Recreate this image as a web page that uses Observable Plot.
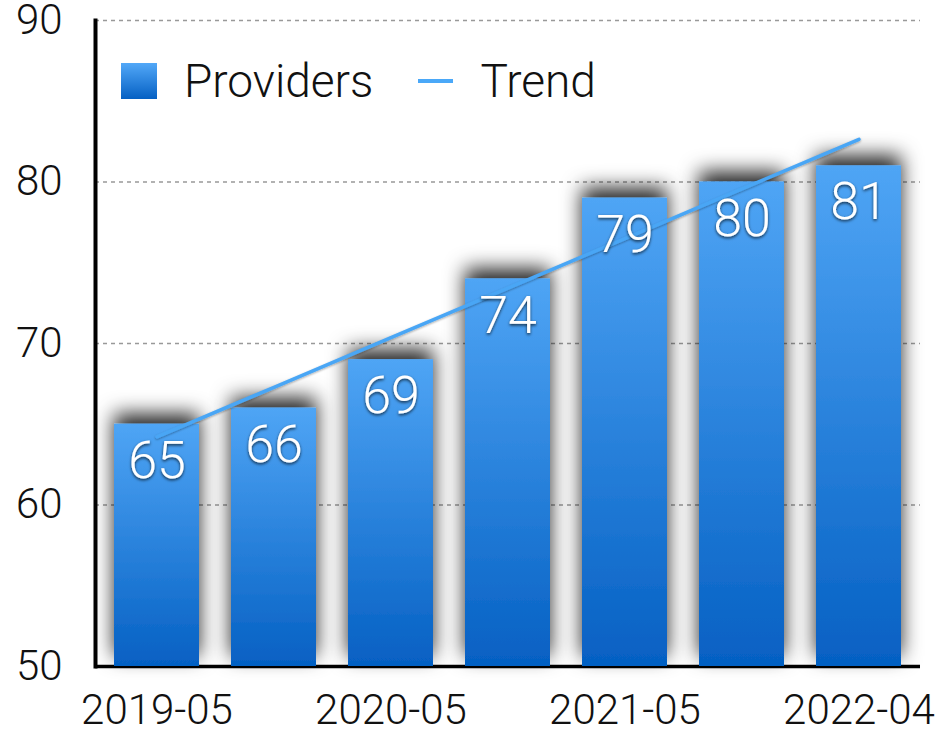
<!DOCTYPE html>
<html><head><meta charset="utf-8">
<script src="https://cdn.jsdelivr.net/npm/d3@7"></script>
<script src="https://cdn.jsdelivr.net/npm/@observablehq/plot@0.6"></script>
<style>
body{margin:0;background:#fff;}
#wrap{position:relative;width:939px;height:730px;font-family:"Helvetica Neue",Roboto,"Liberation Sans",sans-serif;}
.legend{position:absolute;left:121px;top:58px;height:46px;display:flex;align-items:center;font-size:46px;font-weight:300;color:#111;line-height:1;}
.sw-bar{width:36px;height:36px;background:linear-gradient(#52a8f8,#0560c3);margin-right:27px;}
.sw-line{width:35px;height:4px;background:#4aa8f8;margin-left:45px;margin-right:27px;}
</style></head><body><div id="wrap"></div>
<script>
const periods = ["2019-05","2019-11","2020-05","2020-11","2021-05","2021-11","2022-04"];
const providers = [65, 66, 69, 74, 79, 80, 81];
const yTicks = [50, 60, 70, 80, 90];
const gridValues = [60, 70, 80, 90];
const xTickLabels = ["2019-05", "2020-05", "2021-05", "2022-04"];
const seriesNames = ["Providers", "Trend"];

const data = periods.map((p, i) => ({period: p, value: providers[i], idx: i}));
// least-squares trend of the providers series
const mx = d3.mean(data, d => d.idx), my = d3.mean(data, d => d.value);
const slope = d3.sum(data, d => (d.idx - mx) * (d.value - my)) / d3.sum(data, d => (d.idx - mx) ** 2);
const trend = data.map(d => ({period: d.period, trend: my + slope * (d.idx - mx)}));

const font = '"Helvetica Neue",Roboto,"Liberation Sans",sans-serif';
const chart = Plot.plot({
  width: 939, height: 730,
  marginLeft: 95, marginRight: 19, marginTop: 20, marginBottom: 64,
  style: {fontFamily: font, fontSize: "42px", fontWeight: 300, color: "#111", background: "#fff", overflow: "visible"},
  x: {domain: periods, paddingInner: 0.27, paddingOuter: 0.135, label: null},
  y: {domain: [50, 90], label: null},
  marks: [
    Plot.ruleY(gridValues, {stroke: "#999", strokeDasharray: "4,4", strokeWidth: 1.5}),
    Plot.axisY(yTicks, {tickSize: 0, tickPadding: 33, label: null, fontSize: 42}),
    Plot.axisX(xTickLabels, {tickSize: 0, tickPadding: 28, label: null, fontSize: 42}),
    Plot.ruleY([50], {stroke: "#000", strokeWidth: 3.5}),
    Plot.frame({anchor: "left", stroke: "#000", strokeWidth: 4}),
    Plot.barY(data, {x: "period", y1: 50, y2: "value", fill: "url(#barGrad)"}),
    Plot.lineY(trend, {x: "period", y: "trend", stroke: "#4aa6f5", strokeWidth: 3.5}),
    Plot.text(data, {x: "period", y: "value", text: d => String(d.value), fill: "#fff", fontSize: 52, fontWeight: 300, dy: 37})
  ]
});

const svg = d3.select(chart);
const defs = svg.insert("defs", ":first-child");
const g = defs.append("linearGradient").attr("id", "barGrad").attr("x1", 0).attr("y1", 0).attr("x2", 0).attr("y2", 1);
g.append("stop").attr("offset", "0%").attr("stop-color", "#4fa5f5");
g.append("stop").attr("offset", "100%").attr("stop-color", "#0560c3");
const f = defs.append("filter").attr("id", "barShadow").attr("x", "-50%").attr("y", "-40%").attr("width", "200%").attr("height", "180%");
f.append("feDropShadow").attr("dx", 0).attr("dy", -10).attr("stdDeviation", 10).attr("flood-color", "#000").attr("flood-opacity", 0.85);
const f2 = defs.append("filter").attr("id", "textShadow").attr("x", "-20%").attr("y", "-20%").attr("width", "140%").attr("height", "140%");
f2.append("feDropShadow").attr("dx", 0).attr("dy", 1.5).attr("stdDeviation", 1.5).attr("flood-color", "#000").attr("flood-opacity", 0.75);
const f3 = defs.append("filter").attr("id", "lineShadow").attr("x", "-10%").attr("y", "-50%").attr("width", "120%").attr("height", "200%");
f3.append("feDropShadow").attr("dx", 0).attr("dy", 1).attr("stdDeviation", 1).attr("flood-color", "#000").attr("flood-opacity", 0.35);
svg.selectAll('g[aria-label="bar"] rect').attr("filter", "url(#barShadow)");
svg.selectAll('g[aria-label="text"] text').attr("filter", "url(#textShadow)");
svg.selectAll('g[aria-label="line"] path').attr("filter", "url(#lineShadow)");

const wrap = document.getElementById("wrap");
wrap.appendChild(chart);
const legend = document.createElement("div");
legend.className = "legend";
legend.innerHTML = `<span class="sw-bar"></span><span>${seriesNames[0]}</span><span class="sw-line"></span><span>${seriesNames[1]}</span>`;
wrap.appendChild(legend);
</script>
</body></html>
